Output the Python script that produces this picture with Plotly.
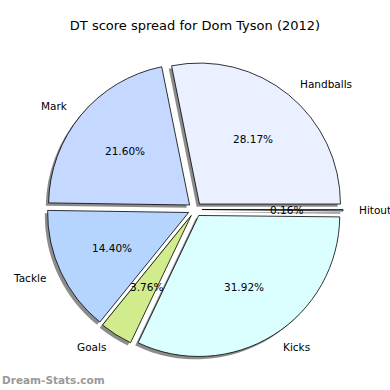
import math
import plotly.graph_objects as go

# ---- data ----
labels = ["Handballs", "Mark", "Tackle", "Goals", "Kicks", "Hitout"]
values = [28.17, 21.60, 14.40, 3.76, 31.92, 0.16]
colors = ["#eaf0ff", "#c5d8ff", "#b5d5ff", "#d0ec8c", "#dbffff", "#c8e0f8"]
title_text = "DT score spread for Dom Tyson (2012)"
watermark = "Dream-Stats.com"

# ---- layout geometry (pixels) ----
W = H = 390
CX, CY = 195.0, 209.5   # pie centre (px from left / top)
R = 141.0               # pie radius
PULL = 0.05
SH = 2.8                # shadow offset px

half = R * (1 + PULL)
total = sum(values)
# plotly (counterclockwise) puts the first slice's ccw end at `rotation`;
# shift so that the first slice starts at 3 o'clock like matplotlib
rotation = 90 - 360.0 * values[0] / total


def dom(dx=0.0, dy=0.0):
    return dict(
        x=[(CX - half + dx) / W, (CX + half + dx) / W],
        y=[1 - (CY + half + dy) / H, 1 - (CY - half + dy) / H],
    )


common = dict(
    labels=labels, values=values, sort=False, direction="counterclockwise",
    rotation=rotation, pull=[PULL] * len(values), textinfo="none",
    hoverinfo="skip", showlegend=False,
)

fig = go.Figure()
fig.add_trace(go.Pie(
    **common, domain=dom(-SH, SH),
    marker=dict(colors=["rgba(0,0,0,0.45)"] * len(values), line=dict(width=0)),
))
fig.add_trace(go.Pie(
    **common, domain=dom(),
    marker=dict(colors=colors, line=dict(color="black", width=0.8)),
))

# ---- text annotations placed from the data (matplotlib-like) ----
annotations = []
start = 0.0
font = dict(family="DejaVu Sans", size=10.5, color="black")
for lab, v in zip(labels, values):
    frac = v / total
    mid = math.radians((start + frac / 2) * 360.0)
    start += frac
    c, s = math.cos(mid), math.sin(mid)
    d = R * (1.1 + PULL)
    annotations.append(dict(
        x=(CX + d * c) / W, y=1 - (CY - d * s) / H, xref="paper", yref="paper",
        text=lab, showarrow=False, font=font,
        xanchor="left" if c > 0 else "right", yanchor="middle",
    ))
    d2 = R * (0.6 + PULL)
    annotations.append(dict(
        x=(CX + d2 * c) / W, y=1 - (CY - d2 * s) / H, xref="paper", yref="paper",
        text=f"{frac * 100:.2f}%", showarrow=False, font=font,
        xanchor="center", yanchor="middle",
    ))

annotations.append(dict(
    x=0, y=1 - 380 / H, xref="paper", yref="paper", text=watermark, showarrow=False,
    font=dict(family="DejaVu Sans", size=10.5, color="#999999", weight="bold"),
    xanchor="left", yanchor="middle",
))

fig.update_layout(
    width=W, height=H, margin=dict(l=0, r=0, t=0, b=0),
    paper_bgcolor="white", plot_bgcolor="white",
    title=dict(text=title_text, x=0.5, xanchor="center", y=1 - 25 / H, yanchor="middle",
               font=dict(family="DejaVu Sans", size=13, color="black")),
    annotations=annotations,
)

fig.write_html("out.html", config={"displayModeBar": False},
               post_script="document.body.style.margin='0';")
